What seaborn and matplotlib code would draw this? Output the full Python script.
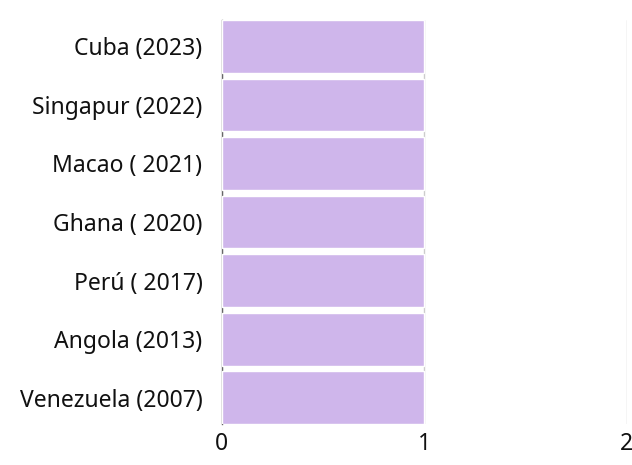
import matplotlib
matplotlib.use("Agg")
import matplotlib.pyplot as plt
import seaborn as sns
import pandas as pd

# data
paises = ["Cuba (2023)", "Singapur (2022)", "Macao ( 2021)", "Ghana ( 2020)",
          "Perú ( 2017)", "Angola (2013)", "Venezuela (2007)"]
valores = [1, 1, 1, 1, 1, 1, 1]
x_ticks = [0, 1, 2]

df = pd.DataFrame({"pais": paises, "valor": valores})

sns.set_theme(style="white")
plt.rcParams["font.family"] = ["Noto Sans", "DejaVu Sans"]

fig = plt.figure(figsize=(6.32, 4.65), dpi=100)
ax = fig.add_axes([0.351, 0.088, 0.641, 0.869])

sns.barplot(data=df, x="valor", y="pais", color="#cfb6eb", saturation=1,
            width=0.9, ax=ax, zorder=3)

ax.set_xlim(0, 2)
ax.set_ylim(len(paises) - 1 + 0.45, -0.45)
ax.set_xticks(x_ticks)
ax.set_xticklabels([str(t) for t in x_ticks])
ax.grid(axis="x", color="#cccccc", linewidth=1, zorder=0)
ax.grid(axis="y", visible=False)

for s in ["top", "right", "bottom"]:
    ax.spines[s].set_visible(False)
ax.spines["left"].set_color("#666666")
ax.spines["left"].set_linewidth(1)
ax.spines["left"].set_zorder(1)

ax.tick_params(axis="both", length=0, labelsize=16.5, colors="#111111")
ax.tick_params(axis="x", pad=6)
ax.tick_params(axis="y", pad=14)
ax.set_xlabel("")
ax.set_ylabel("")

fig.savefig("out.png", dpi=100)
